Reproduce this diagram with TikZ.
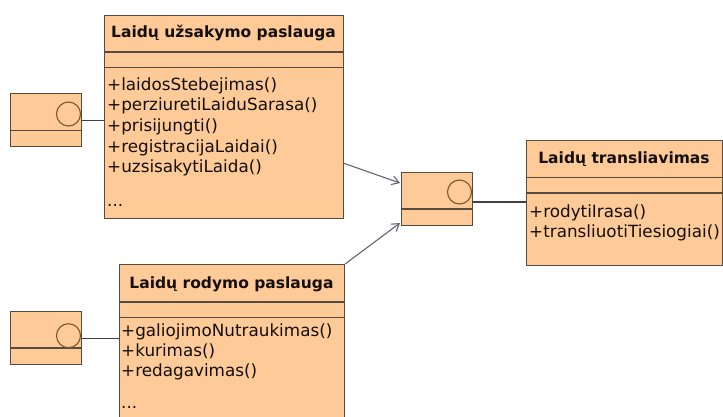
\documentclass[tikz,border=0pt]{standalone}
\usepackage{fontspec}
\setmainfont{DejaVu Sans}
\usepackage{tikz}
\usetikzlibrary{arrows.meta}
\definecolor{peach}{RGB}{253,202,152}
\definecolor{frame}{RGB}{85,75,65}
\definecolor{ball}{RGB}{125,85,45}
\definecolor{wire}{RGB}{65,65,65}
\definecolor{usage}{RGB}{100,100,110}
\definecolor{ink}{RGB}{20,15,10}

\begin{document}
\begin{tikzpicture}[x=1pt, y=-1pt, >={Straight Barb[length=7pt,width=9pt]},
  box/.style={draw=frame, fill=peach, line width=1.1pt, anchor=north west, inner sep=0pt},
  rule/.style={draw=frame, line width=1.1pt},
  title/.style={anchor=base, inner sep=0pt, text=ink, font=\fontsize{15.5}{18}\selectfont\bfseries},
  op/.style={anchor=base west, inner sep=0pt, text=ink, font=\fontsize{16.8}{20}\selectfont},
  port/.style={circle, draw=ball, line width=1.1pt, minimum size=24pt, inner sep=0pt},
  link/.style={draw=wire, line width=1.1pt},
  uses/.style={->, draw=usage, line width=1.1pt}]
  \useasboundingbox (0,0) rectangle (723,416);

  % Laidu uzsakymo paslauga
  \node[box, minimum width=239pt, minimum height=203pt] (uzs) at (104,15) {};
  \draw[rule] (104,52) -- (343,52) (104,67.5) -- (343,67.5);
  \node[title] (uzs-name) at (223.5,37.5) {Laidų užsakymo paslauga};
  \foreach \op [count=\i] in {+laidosStebejimas(), +perziuretiLaiduSarasa(),
      +prisijungti(), +registracijaLaidai(), +uzsisakytiLaida()}
    \node[op] (uzs-op\i) at (107,{90+20.7*(\i-1)}) {\op};
  \node[op] (uzs-more) at (107,206) {...};

  % Laidu rodymo paslauga
  \node[box, minimum width=225pt, minimum height=160pt] (rod) at (119,264) {};
  \draw[rule] (119,302) -- (344,302) (119,317.5) -- (344,317.5);
  \node[title] (rod-name) at (231.5,288.3) {Laidų rodymo paslauga};
  \foreach \op [count=\i] in {+galiojimoNutraukimas(), +kurimas(), +redagavimas()}
    \node[op] (rod-op\i) at (121,{336.7+20*(\i-1)}) {\op};
  \node[op] (rod-more) at (121,408.5) {...};

  % Laidu transliavimas
  \node[box, minimum width=196pt, minimum height=125pt] (tra) at (526,140) {};
  \draw[rule] (526,177.5) -- (722,177.5) (526,193) -- (722,193);
  \node[title] (tra-name) at (624,163.3) {Laidų transliavimas};
  \node[op] (tra-op1) at (529,217.3) {+rodytiIrasa()};
  \node[op] (tra-op2) at (529,237.4) {+transliuotiTiesiogiai()};

  % interface boxes
  \node[box, minimum width=71pt, minimum height=53pt] (ifA) at (10,93) {};
  \draw[rule] (10,130.5) -- (81,130.5);
  \node[port] (ifA-ball) at (68.5,114) {};

  \node[box, minimum width=71pt, minimum height=53pt] (ifB) at (10,311) {};
  \draw[rule] (10,348) -- (81,348);
  \node[port] (ifB-ball) at (68.5,335.7) {};

  \node[box, minimum width=71pt, minimum height=53pt] (ifC) at (401,171.5) {};
  \draw[rule] (401,209) -- (472,209);
  \node[port] (ifC-ball) at (459.5,192) {};

  % connectors
  \coordinate (ifC-out) at (472,202);
  \coordinate (uzs-out) at (343,163);
  \coordinate (ifC-inA) at (400,183);
  \coordinate (ifC-inB) at (400,223);
  \draw[link] (ifA.east) -- (ifA.east -| uzs.west);
  \draw[link] (ifB.east) -- (ifB.east -| rod.west);
  \draw[link] (ifC-out) -- (ifC-out -| tra.west);
  \draw[uses] (uzs-out) -- (ifC-inA);
  \draw[uses] (rod.north east) -- (ifC-inB);
\end{tikzpicture}
\end{document}
